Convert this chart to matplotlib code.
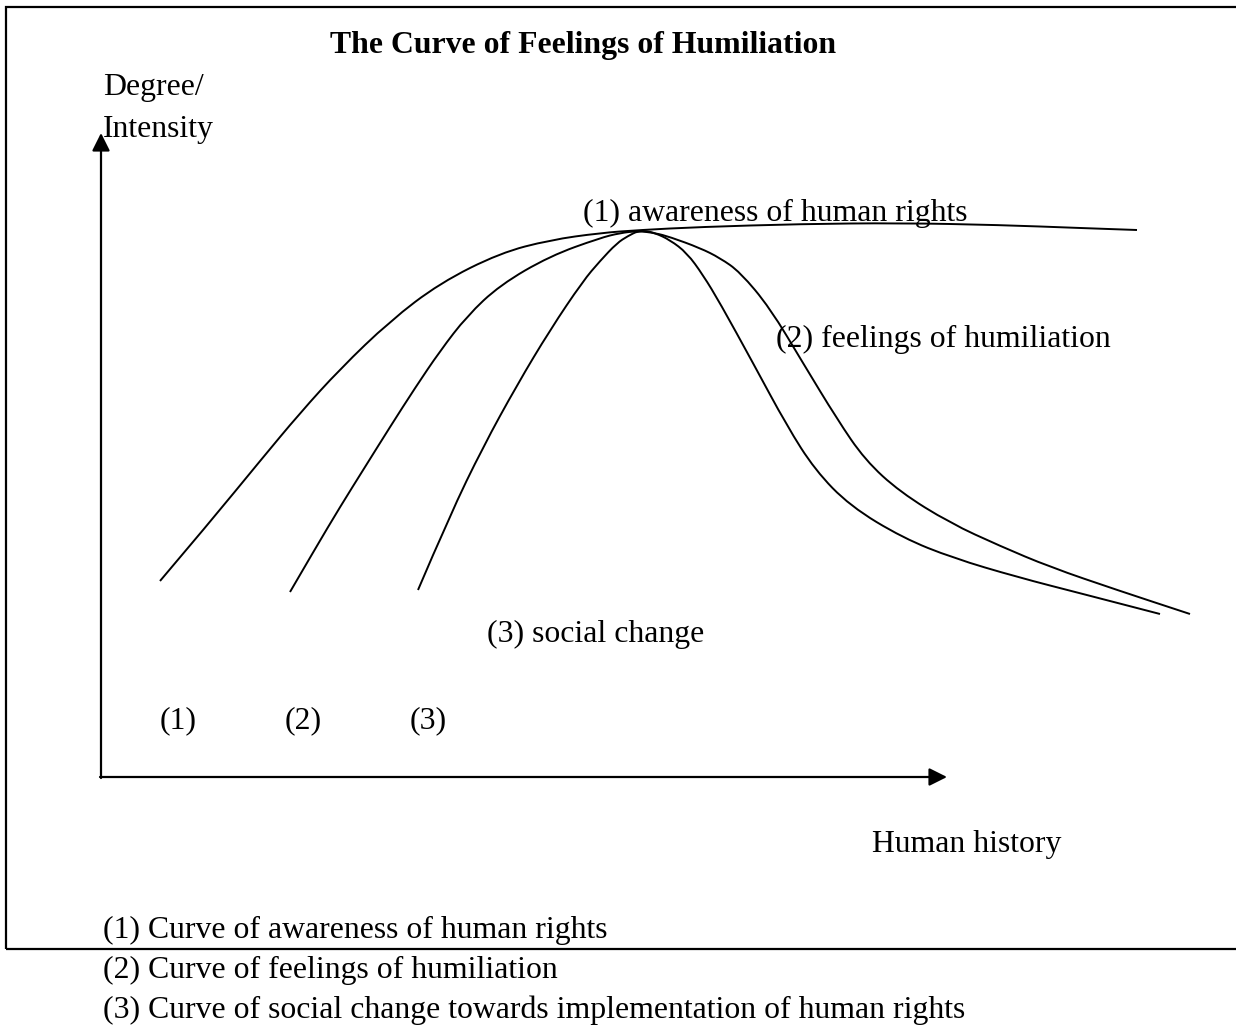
import matplotlib
matplotlib.use("Agg")
import matplotlib.pyplot as plt
from matplotlib.patches import Rectangle, PathPatch
from matplotlib.path import Path

# ---- data (history = horizontal position, intensity = vertical position, axis origin at 0,0)
ORIGIN_X, ORIGIN_Y = 101, 777

awareness_px = [(160, 581), (210, 522), (260, 461), (300, 413), (340, 369), (390, 321),
                (440, 283), (500, 253), (550, 240), (600, 233), (640, 230), (700, 227),
                (800, 224), (900, 223), (1000, 225), (1080, 228), (1137, 230)]
humiliation_px = [(290, 592), (315, 549), (340, 507), (365, 467), (390, 427), (415, 388),
                  (440, 351), (467, 316), (500, 285), (550, 256), (600, 238), (620, 233),
                  (638, 231), (655, 233), (670, 237), (700, 248), (720, 258), (740, 272),
                  (770, 308), (803, 363), (837, 419), (865, 460), (900, 492), (950, 523),
                  (1000, 546), (1050, 567), (1117, 590), (1190, 614)]
social_px = [(418, 590), (450, 515), (483, 447), (517, 385), (550, 330), (583, 281),
             (600, 261), (617, 243), (628, 236), (638, 231), (646, 231), (655, 233),
             (670, 240), (687, 253), (703, 275), (720, 303), (753, 363), (787, 426),
             (815, 470), (850, 506), (903, 538), (953, 558), (1017, 577), (1083, 594),
             (1160, 614)]

curves = [awareness_px, humiliation_px, social_px]

title = "The Curve of Feelings of Humiliation"
y_label = ["Degree/", "Intensity"]
x_label = "Human history"
curve_labels = ["(1) awareness of human rights", "(2) feelings of humiliation", "(3) social change"]
start_labels = ["(1)", "(2)", "(3)"]
legend_lines = ["(1) Curve of awareness of human rights",
                "(2) Curve of feelings of humiliation",
                "(3) Curve of social change towards implementation of human rights"]


def hist(px):
    return px - ORIGIN_X


def inten(py):
    return ORIGIN_Y - py


W, H = 1236, 1027
fig = plt.figure(figsize=(W / 100, H / 100), dpi=100)
ax = fig.add_axes([0, 0, 1, 1])
ax.set_xlim(hist(0), hist(W))
ax.set_ylim(inten(H), inten(0))
ax.axis("off")

FONT = "Liberation Serif"
FS = 22.9

# border box
fig.patches.append(Rectangle((5.5 / W, 1 - 949 / H), (W - 5.5) / W + 0.01, (949 - 6.5) / H,
                             transform=fig.transFigure, fill=False, lw=1.6, ec="black"))

# axes with arrows
ax.annotate("", xy=(hist(101), inten(133)), xytext=(hist(101), inten(778)),
            arrowprops=dict(arrowstyle="-|>,head_length=0.4,head_width=0.2",
                            mutation_scale=27, lw=1.6, color="black", shrinkA=0, shrinkB=0))
ax.annotate("", xy=(hist(947), inten(777)), xytext=(hist(100), inten(777)),
            arrowprops=dict(arrowstyle="-|>,head_length=0.4,head_width=0.2",
                            mutation_scale=27, lw=1.6, color="black", shrinkA=0, shrinkB=0))

# smooth curves: data points used as quadratic Bezier control points
for c in curves:
    pts = [(hist(p[0]), inten(p[1])) for p in c]
    verts = [pts[0]]
    codes = [Path.MOVETO]
    for i in range(1, len(pts) - 1):
        mid = ((pts[i][0] + pts[i + 1][0]) / 2, (pts[i][1] + pts[i + 1][1]) / 2)
        verts += [pts[i], mid]
        codes += [Path.CURVE3, Path.CURVE3]
    verts.append(pts[-1])
    codes.append(Path.LINETO)
    ax.add_patch(PathPatch(Path(verts, codes), fill=False, ec="black", lw=1.4,
                           joinstyle="round", capstyle="butt"))

def txt(x, y, s, **kw):
    ax.text(hist(x), inten(y), s, fontfamily=FONT, fontsize=kw.pop("fs", FS),
            va="baseline", ha=kw.pop("ha", "left"), color="black", **kw)

txt(583, 53, title, ha="center", fs=22.9, fontweight="bold")
txt(103, 95, y_label[0])
txt(103, 137, y_label[1])
txt(583, 221, curve_labels[0])
txt(776, 347, curve_labels[1])
txt(487, 642, curve_labels[2])
for xpos, s in zip([160, 285, 410], start_labels):
    txt(xpos, 728, s)
txt(872, 852, x_label)
for ypos, s in zip([938, 978, 1018], legend_lines):
    txt(103, ypos, s)

fig.savefig("out.png", dpi=100)
